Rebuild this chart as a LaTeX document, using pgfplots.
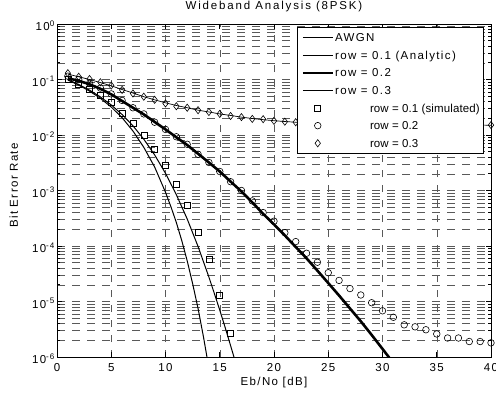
\documentclass[border=0pt]{standalone}
\usepackage{fontspec}
\setmainfont{Liberation Sans}[LetterSpace=12]
\newfontfamily\titlefont{Liberation Sans}[LetterSpace=16]
\newfontfamily\plainfont{Liberation Sans}[LetterSpace=1]
\usepackage{pgfplots}
\pgfplotsset{compat=1.18}

\pgfplotstableread{
x y
1 0.0977
2 0.0793
3 0.0618
4 0.0458
5 0.0319
6 0.0205
7 0.0118
8 0.0060
9 0.00265
10 0.00093
10.5 0.00051
11 0.000265
11.5 0.000125
12 0.000054
12.5 0.000021
13 0.0000075
13.5 0.0000023
14 0.00000063
}\awgn

\pgfplotstableread{
x y
1 0.0995
2 0.0813
3 0.0643
4 0.0486
5 0.0348
6 0.0234
7 0.01464
8 0.00841
9 0.00438
10 0.00204
11 0.00084
12 0.000307
13 0.000098
14 0.0000276
14.5 0.000014
15 0.0000070
15.5 0.0000034
16 0.0000016
16.5 0.00000075
}\rowoneana

\pgfplotstableread{
x y
1 0.105
2 0.095
3 0.082
4 0.068
5 0.054
6 0.041
7 0.031
8 0.0235
9 0.0172
10 0.0126
11 0.0091
12 0.0066
13 0.0046
14 0.0032
15 0.0022
16 0.00145
17 0.00096
18 0.00061
19 0.00038
20 0.000245
21 0.000155
22 0.000096
23 0.000060
24 0.000036
25 0.0000215
26 0.0000128
27 0.0000075
28 0.0000044
29 0.0000025
30 0.0000014
31 0.00000078
}\rowtwoana

\pgfplotstableread{
x y
1 0.125
2 0.112
3 0.100
4 0.088
5 0.077
6 0.066
7 0.057
8 0.049
9 0.043
10 0.038
11 0.034
12 0.031
13 0.028
14 0.026
15 0.024
16 0.0225
17 0.021
18 0.0198
19 0.0189
20 0.0181
21 0.0175
22 0.0170
23 0.0167
24 0.0165
25 0.0163
26 0.0161
27 0.0160
28 0.0158
29 0.0157
30 0.0156
31 0.0155
32 0.0154
33 0.0153
34 0.0153
35 0.0152
36 0.0152
37 0.0151
38 0.0151
39 0.0151
40 0.0150
}\rowthreeana

\pgfplotstableread{
x y
1 0.100
2 0.083
3 0.066
4 0.051
5 0.039
6 0.025
7 0.0165
8 0.0098
9 0.0056
10 0.0028
11 0.0013
12 0.00054
13 0.00018
14 0.000058
15 0.0000127
16 0.0000027
}\rowonesim

\pgfplotstableread{
x y
1 0.115
2 0.100
3 0.085
4 0.070
5 0.055
6 0.042
7 0.031
8 0.024
9 0.017
10 0.0126
11 0.0093
12 0.0068
13 0.0045
14 0.0032
15 0.0022
16 0.00144
17 0.0010
18 0.00065
19 0.00040
20 0.00028
21 0.000174
22 0.000120
23 0.000074
24 0.000051
25 0.000033
26 0.000024
27 0.0000171
28 0.0000131
29 0.0000095
30 0.0000068
31 0.0000052
32 0.0000038
33 0.0000035
34 0.0000031
35 0.0000026
36 0.0000022
37 0.0000022
38 0.0000019
39 0.0000019
40 0.0000018
}\rowtwosim

\pgfplotstableread{
x y
1 0.130
2 0.112
3 0.102
4 0.089
5 0.078
6 0.065
7 0.056
8 0.049
9 0.043
10 0.037
11 0.033
12 0.031
13 0.028
14 0.026
15 0.024
16 0.022
17 0.021
18 0.0195
19 0.0193
20 0.0180
21 0.0174
22 0.0170
23 0.0167
24 0.0165
25 0.0163
26 0.0161
27 0.0160
28 0.0158
29 0.0157
30 0.0156
31 0.0155
32 0.0154
33 0.0153
34 0.0153
35 0.0152
36 0.0152
37 0.0151
38 0.0151
39 0.0151
40 0.0151
}\rowthreesim

\pgfplotsset{
  mylinelegend/.style={legend image code/.code={\draw[##1] (0bp,0bp) -- (30bp,0bp);}},
  mymarklegend/.style={legend image code/.code={\draw[mark repeat=2,mark phase=2,##1] plot coordinates {(0bp,0bp)(15bp,0bp)(30bp,0bp)};}},
}
\newcommand{\mkentry}[1]{\hspace*{35bp}{\plainfont #1}}

\begin{document}
\begin{tikzpicture}[font=\fontsize{11.5bp}{13.5bp}\selectfont]
\begin{semilogyaxis}[
  scale only axis,
  width=434bp, height=333bp,
  xmin=0, xmax=40, ymin=1e-6, ymax=1,
  xtick={0,5,...,40},
  xticklabels={0,5,10,15,20,25,30,35,40},
  ytick={1e-6,1e-5,1e-4,1e-3,1e-2,1e-1,1},
  yticklabels={10\textsuperscript{-6},10\textsuperscript{-5},10\textsuperscript{-4},10\textsuperscript{-3},10\textsuperscript{-2},10\textsuperscript{-1},10\textsuperscript{0}},
  minor ytick={2e-6,3e-6,4e-6,5e-6,6e-6,7e-6,8e-6,9e-6,
               2e-5,3e-5,4e-5,5e-5,6e-5,7e-5,8e-5,9e-5,
               2e-4,3e-4,4e-4,5e-4,6e-4,7e-4,8e-4,9e-4,
               2e-3,3e-3,4e-3,5e-3,6e-3,7e-3,8e-3,9e-3,
               2e-2,3e-2,4e-2,5e-2,6e-2,7e-2,8e-2,9e-2,
               2e-1,3e-1,4e-1,5e-1,6e-1,7e-1,8e-1,9e-1},
  grid=both,
  major grid style={line width=0.5bp, black!65, dash pattern=on 7.5bp off 7.5bp},
  minor grid style={line width=0.5bp, black!65, dash pattern=on 7.5bp off 7.5bp},
  tick align=inside,
  xtick pos=both, ytick pos=both,
  major tick length=5bp, minor tick length=3bp,
  tick style={black, line width=0.6bp},
  axis line style={line width=1bp, black},
  xticklabel style={anchor=base, inner sep=0pt, yshift=-14bp},
  yticklabel style={anchor=base east, inner sep=0pt, xshift=-2bp, yshift=-6.5bp},
  title={\titlefont Wideband Analysis (8PSK)},
  title style={at={(axis description cs:0.5,1)}, anchor=base, inner sep=0pt, yshift=8.5bp},
  xlabel={Eb/No [dB]},
  xlabel style={at={(axis description cs:0.5,0)}, anchor=base, inner sep=0pt, yshift=-28.5bp},
  ylabel={Bit Error Rate},
  ylabel style={at={(axis description cs:-0.0899,0.515)}, anchor=base, inner sep=0pt},
  clip mode=individual,
  legend cell align=left,
  legend style={at={(rel axis cs:0.984,0.991)}, anchor=north east,
     draw=black, line width=0.7bp, fill=white,
     inner xsep=4bp, inner ysep=3bp, row sep=3bp, column sep=1bp,
     nodes={inner sep=0pt, text height=11.4bp, text depth=3.2bp}},
]
\addplot[black, line width=1bp, mylinelegend] table {\awgn};
\addlegendentry{AWGN}
\addplot[black, line width=1bp, mylinelegend] table {\rowoneana};
\addlegendentry{row = 0.1 (Analytic)}
\addplot[black, line width=2.6bp, mylinelegend] table {\rowtwoana};
\addlegendentry{row = 0.2}
\addplot[black, line width=0.7bp, mylinelegend] table {\rowthreeana};
\addlegendentry{row = 0.3}
\addplot[black, only marks, mark=square, mark size=3bp, mark options={line width=0.6bp}, mymarklegend] table {\rowonesim};
\addlegendentry{\mkentry{row = 0.1 (simulated)}}
\addplot[black, only marks, mark=o, mark size=3.3bp, mark options={line width=0.6bp}, mymarklegend] table {\rowtwosim};
\addlegendentry{\mkentry{row = 0.2}}
\addplot[black, only marks, mark=diamond, mark size=3.6bp, mark options={line width=0.6bp}, mymarklegend] table {\rowthreesim};
\addlegendentry{\mkentry{row = 0.3}}
\end{semilogyaxis}
\pgfresetboundingbox
\path ([shift={(-57bp,-36bp)}]current axis.south west) rectangle ([shift={(5bp,24bp)}]current axis.north east);
\end{tikzpicture}
\end{document}
